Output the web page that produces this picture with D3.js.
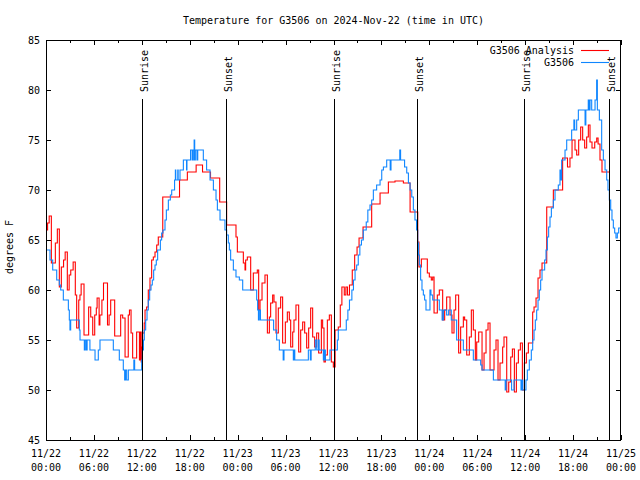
<!DOCTYPE html>
<html><head><meta charset="utf-8">
<script src="https://cdn.jsdelivr.net/npm/d3@7"></script>
<style>
body{margin:0;background:#fff}
svg text{font-family:"DejaVu Sans Mono","Liberation Mono",monospace;font-size:10px;fill:#000}
</style></head><body>
<svg id="c" width="640" height="480"></svg>
<script>
// ---- data (hours since 11/22 00:00 UTC, degrees F) ----
const titleText = "Temperature for G3506 on 2024-Nov-22 (time in UTC)";
const yLabel = "degrees F";
const seriesNames = ["G3506 Analysis", "G3506"];
const seriesColors = ["#ff0000", "#0f86ff"];

const analysisSeries = [[0,66.0],[0.2,66.7],[0.4,67.4],[0.67,62.7],[1.17,64.7],[1.42,66.1],[1.67,60.3],[1.92,62.3],[2.2,63.0],[2.4,63.8],[2.67,60.0],[2.9,61.5],[3.1,62.0],[3.4,62.8],[3.67,59.5],[3.84,56.2],[4.1,59.0],[4.25,59.5],[4.4,60.6],[4.76,55.5],[5.34,58.3],[5.6,57.3],[5.85,55.5],[6.1,57.5],[6.3,58.2],[6.4,59.2],[6.65,56.5],[6.75,57.5],[7.0,59.0],[7.2,60.7],[7.7,56.5],[7.9,57.5],[8.1,59.0],[8.6,55.4],[9.35,57.5],[9.6,57.2],[9.9,53.3],[10.3,57.5],[10.45,58.0],[10.65,55.7],[10.85,53.2],[11.35,55.8],[11.7,53.0],[11.8,55.8],[11.92,52.8],[12.0,54.3],[12.1,55.7],[12.3,56.7],[12.4,58.0],[12.6,58.3],[12.81,60.0],[13.02,61.2],[13.23,63.0],[13.44,63.3],[13.65,63.8],[13.86,64.5],[14.06,65.3],[14.62,69.3],[16.72,71.0],[17.7,71.8],[18.8,72.5],[19.6,71.8],[20.6,71.2],[21.75,68.8],[22.62,66.5],[23.79,65.3],[23.96,63.8],[24.71,62.7],[24.92,62.0],[25.0,63.0],[25.21,63.3],[25.63,60.0],[25.96,61.7],[26.46,62.0],[26.63,58.0],[26.8,59.0],[27.05,60.7],[27.42,61.5],[27.72,55.7],[27.97,57.3],[28.13,58.7],[28.38,59.5],[28.55,58.8],[28.8,55.7],[29.09,58.2],[29.38,59.3],[29.63,54.7],[29.97,56.8],[30.22,57.8],[30.47,57.0],[30.64,54.3],[30.89,55.8],[31.05,57.0],[31.3,58.5],[31.64,53.8],[31.89,56.0],[32.14,56.8],[32.39,55.7],[32.64,54.2],[32.89,56.2],[33.14,58.2],[33.39,55.3],[33.64,54.3],[33.89,55.7],[34.14,53.7],[34.48,57.0],[34.64,56.2],[34.81,52.8],[34.98,53.5],[35.23,57.0],[35.48,57.5],[35.73,52.8],[35.98,52.3],[36.2,56.0],[36.6,56.3],[36.85,58.5],[37.05,60.3],[37.35,59.5],[37.55,60.3],[37.75,59.5],[38.0,60.5],[38.35,62.0],[38.65,63.5],[38.95,64.3],[39.2,65.2],[39.7,66.3],[40.78,68.6],[41.83,69.7],[42.87,70.8],[43.7,70.9],[44.75,70.7],[45.59,67.8],[46.55,64.8],[46.7,62.3],[47.0,63.1],[47.75,61.7],[48.0,61.3],[48.25,61.0],[48.42,61.3],[48.59,57.7],[49.0,59.5],[49.25,60.0],[49.67,57.0],[49.92,58.0],[50.17,59.3],[50.59,57.5],[50.84,55.7],[51.09,58.0],[51.3,59.5],[51.67,53.7],[51.92,56.3],[52.26,57.3],[52.42,57.0],[52.68,53.5],[53.01,55.3],[53.26,58.0],[53.51,56.0],[53.76,53.0],[53.93,54.8],[54.18,55.8],[54.6,52.0],[54.85,53.7],[55.1,56.0],[55.35,56.7],[55.6,52.0],[56.1,54.0],[56.35,55.0],[56.6,51.0],[56.85,52.7],[57.18,54.3],[57.35,55.3],[57.69,49.8],[57.94,50.8],[58.19,53.3],[58.4,54.1],[58.65,49.8],[58.9,52.7],[59.15,54.0],[59.4,54.7],[59.65,50.0],[59.9,52.7],[60.15,53.7],[60.4,54.7],[60.94,57.8],[61.11,58.3],[61.36,59.2],[61.61,61.2],[61.86,62.0],[62.11,62.7],[62.7,68.3],[63.53,70.0],[64.69,73.2],[65.3,72.3],[65.61,73.2],[65.87,75.0],[66.24,74.0],[66.45,73.5],[66.7,75.0],[66.95,76.3],[67.2,75.0],[67.45,74.2],[67.7,75.3],[67.91,76.5],[68.12,74.8],[68.37,74.2],[68.71,74.8],[68.96,75.2],[69.13,74.6],[69.37,73.0],[69.62,71.8],[70.62,71.8]];

const observedSeries = [[0,64],[0.5,63],[0.84,62],[1.34,61],[1.67,60.5],[1.84,60],[2.17,59],[2.8,58],[2.92,57],[3.0,56],[3.09,57],[4.17,56],[4.26,55],[4.8,54],[4.9,55],[5.05,54],[5.15,55],[5.5,54],[6.14,53],[6.55,54],[6.76,55],[8.43,54],[9.18,53],[9.68,52],[9.85,51],[9.95,52],[10.1,51],[10.31,52],[11.0,53],[11.1,52],[11.98,53],[12.06,54],[12.2,55],[12.31,56],[12.48,57],[12.65,58],[12.81,59],[12.98,60],[13.15,60.5],[13.31,61],[13.48,62],[13.65,62.5],[13.81,63],[13.98,64],[14.32,65],[14.48,65.7],[14.65,66],[14.9,67],[15.07,68],[15.32,69],[15.57,69.5],[15.74,70],[16.1,71],[16.2,72],[16.25,71],[16.5,72],[16.55,71],[16.78,72],[17.2,73],[17.6,72],[17.65,73],[18.1,74],[18.3,73],[18.35,74],[18.5,73],[18.55,75],[18.62,73],[18.7,74],[18.9,73],[19.0,74],[19.7,73],[20.11,72],[20.54,71],[20.96,70],[21.29,69],[21.46,68],[21.79,67],[22.41,66],[22.62,65.5],[22.83,64.7],[22.96,64],[23.12,63],[23.46,62],[23.79,61.3],[24.21,61],[24.63,60],[26.38,59],[26.5,58],[26.6,57],[26.7,58],[26.85,57],[28.5,56],[28.88,55],[29.22,54],[29.7,53],[29.8,54],[30.97,53],[31.05,54],[31.15,53],[32.85,54],[33.1,53],[33.2,54],[33.72,55],[33.9,54],[34.1,55],[34.2,54],[34.73,53],[34.85,54],[34.98,53],[35.56,54],[36.48,55],[36.6,56],[37.6,57],[37.8,58],[38.0,59],[38.3,60],[38.5,61],[38.7,62],[38.9,62.5],[39.1,63.5],[39.3,64.5],[39.5,65],[39.73,66],[40.1,66.8],[40.3,68],[40.57,68.5],[40.78,69],[40.99,70],[41.4,70.5],[41.83,71],[42.04,72],[42.25,72.3],[42.66,73],[43.1,72],[43.2,73],[44.3,74],[44.4,73],[44.9,72.3],[45.17,71.7],[45.38,70.7],[45.59,70],[45.8,69.3],[46.0,68],[46.2,67],[46.4,66],[46.55,64.7],[46.65,63.5],[46.75,62.5],[46.91,61],[47.08,60],[47.25,59.5],[47.41,59],[47.58,58],[48.08,60],[48.2,59.5],[48.42,59],[49.25,58],[49.6,57],[49.76,58],[50.17,57.5],[50.42,58],[50.75,57],[51.42,55],[52.26,54],[53.51,53],[54.43,52.5],[54.6,52],[56.02,51],[57.5,50],[57.6,51],[58.3,50],[58.6,51],[59.48,50],[59.6,51],[59.7,50],[60.1,51],[60.27,52],[60.52,53],[60.77,54],[60.94,55],[61.11,56],[61.27,57],[61.44,58],[61.61,59],[61.77,60],[61.94,61],[62.11,62],[62.44,63],[62.61,64],[62.78,65.3],[62.94,66.3],[63.11,67.3],[63.28,68.2],[63.53,69],[63.74,70],[64.15,70.5],[64.36,72],[64.45,71],[64.57,73],[64.99,74],[65.2,75],[65.82,76],[66.1,77],[66.2,76],[66.45,77],[66.66,78],[67.5,76.5],[67.6,78],[67.9,79],[68.0,78],[68.12,79],[68.33,78],[68.75,79],[68.95,81],[69.04,78],[69.29,77],[69.58,74],[69.79,73],[70.0,72],[70.21,71],[70.37,70],[70.54,69],[70.71,68],[70.87,67],[71.04,66.2],[71.21,65.7],[71.37,65.2],[71.54,65.7],[71.71,66.2],[71.87,66.2]];

const sunriseHours = [11.97, 36.0, 59.88];
const sunsetHours = [22.57, 46.5, 70.55];
const sunLineTop = 79.1;

const xTickHours = [0,6,12,18,24,30,36,42,48,54,60,66,72];
const xTickDates = ["11/22","11/22","11/22","11/22","11/23","11/23","11/23","11/23","11/24","11/24","11/24","11/24","11/25"];
const xTickTimes = ["00:00","06:00","12:00","18:00","00:00","06:00","12:00","18:00","00:00","06:00","12:00","18:00","00:00"];
const xMinorHours = d3.range(0, 73, 3);
const yTicks = [45,50,55,60,65,70,75,80,85];

// ---- drawing ----
const svg = d3.select("#c");
const L = 46, R = 621, T = 40, B = 440;
const x = d3.scaleLinear().domain([0,72]).range([L,R]);
const y = d3.scaleLinear().domain([45,85]).range([B,T]);

svg.append("rect").attr("width",640).attr("height",480).attr("fill","#fff");

svg.append("text").attr("x",(L+R)/2).attr("y",24).attr("text-anchor","middle").text(titleText);
svg.append("text").attr("transform","translate(13,247) rotate(-90)").attr("text-anchor","middle").text(yLabel);

function styleAxis(g){ g.select(".domain").remove(); g.selectAll("line").attr("stroke","#000").attr("shape-rendering","crispEdges"); }

svg.append("g").attr("transform",`translate(0,${B})`).call(d3.axisBottom(x).tickValues(xMinorHours).tickSize(-3).tickFormat("")).call(styleAxis);
svg.append("g").attr("transform",`translate(0,${T})`).call(d3.axisTop(x).tickValues(xMinorHours).tickSize(-3).tickFormat("")).call(styleAxis);
svg.append("g").attr("transform",`translate(0,${B})`).call(d3.axisBottom(x).tickValues(xTickHours).tickSize(-5).tickFormat("")).call(styleAxis);
svg.append("g").attr("transform",`translate(0,${T})`).call(d3.axisTop(x).tickValues(xTickHours).tickSize(-5).tickFormat("")).call(styleAxis);
const xl = svg.append("g");
xTickHours.forEach((h,i)=>{
  const t = xl.append("text").attr("text-anchor","middle");
  t.append("tspan").attr("x",x(h)).attr("y",457).text(xTickDates[i]);
  t.append("tspan").attr("x",x(h)).attr("y",471).text(xTickTimes[i]);
});
svg.append("g").attr("transform",`translate(${L},0)`).call(d3.axisLeft(y).tickValues(yTicks).tickSize(-5).tickPadding(6).tickFormat(d3.format("d"))).call(styleAxis)
  .selectAll("text").style("font-family","DejaVu Sans Mono, monospace").style("font-size","10px");
svg.append("g").attr("transform",`translate(${R},0)`).call(d3.axisRight(y).tickValues(yTicks).tickSize(-5).tickFormat("")).call(styleAxis);

svg.append("clipPath").attr("id","clip").append("rect").attr("x",L).attr("y",T).attr("width",R-L).attr("height",B-T);

const line = d3.line().x(d=>x(d[0])).y(d=>y(d[1])).curve(d3.curveStepAfter);
const plot = svg.append("g").attr("clip-path","url(#clip)");
plot.append("path").datum(analysisSeries).attr("d",line).attr("fill","none").attr("stroke",seriesColors[0]).attr("stroke-width",1.1);
plot.append("path").datum(observedSeries).attr("d",line).attr("fill","none").attr("stroke",seriesColors[1]).attr("stroke-width",1.1);

const sunEvents = sunriseHours.map(h=>({h,label:"Sunrise"})).concat(sunsetHours.map(h=>({h,label:"Sunset"})));
sunEvents.forEach(ev=>{
  const px = Math.round(x(ev.h))+0.5;
  svg.append("line").attr("x1",px).attr("x2",px).attr("y1",y(sunLineTop)).attr("y2",y(45)).attr("stroke","#000").attr("stroke-width",1);
  svg.append("text").attr("transform",`translate(${px+5},${y(sunLineTop)-7}) rotate(-90)`).attr("text-anchor","start").text(ev.label);
});

svg.append("rect").attr("x",L+0.5).attr("y",T+0.5).attr("width",R-L-1).attr("height",B-T).attr("fill","none").attr("stroke","#000").attr("stroke-width",1);

seriesNames.forEach((n,i)=>{
  const ly = 50 + i*12;
  svg.append("text").attr("x",574).attr("y",ly+3.5).attr("text-anchor","end").text(n);
  svg.append("line").attr("x1",581).attr("x2",609).attr("y1",ly+0.5).attr("y2",ly+0.5).attr("stroke",seriesColors[i]).attr("stroke-width",1.1);
});
</script>
</body></html>
